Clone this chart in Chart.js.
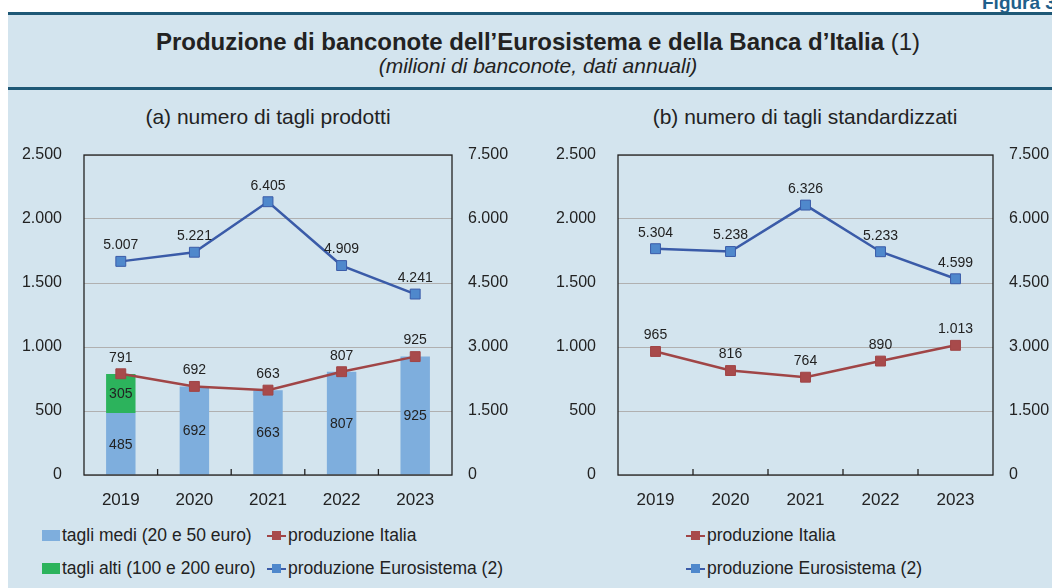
<!DOCTYPE html>
<html>
<head>
<meta charset="utf-8">
<script src="https://cdn.jsdelivr.net/npm/chart.js@4"></script>
<style>
  body { margin: 0; width: 1052px; height: 588px; background: #fff; position: relative; overflow: hidden;
         font-family: "Liberation Sans", Arial, sans-serif; color: #222; }
  .panel { position: absolute; left: 8px; top: 13px; right: 0; bottom: 0; background: #d3e4ee; }
  .rule { position: absolute; left: 8px; right: 0; height: 3px; background: #1e5876; }
  .fig { position: absolute; left: 982px; top: -8px; font-weight: bold; font-size: 19px; color: #1f5f8b; white-space: nowrap; }
  .title { position: absolute; left: 0; width: 1076px; top: 28px; text-align: center; font-size: 24px; }
  .title b { font-weight: bold; }
  .sub { position: absolute; left: 0; width: 1076px; top: 54px; text-align: center; font-size: 21px; font-style: italic; }
  .ptitle { position: absolute; top: 105px; font-size: 21px; text-align: center; }
  canvas { position: absolute; }
  .leg { position: absolute; font-size: 17.5px; display: flex; align-items: center; white-space: nowrap; }
  .box { width: 18px; height: 11px; margin-right: 2px; }
  .mk { position: relative; width: 19px; height: 12px; margin-right: 2px; }
  .mk .ln { position: absolute; left: 0; right: 0; top: 5px; height: 2.5px; }
  .mk .sq { position: absolute; left: 5px; top: 1.5px; width: 9px; height: 9px; }
</style>
</head>
<body>
<div class="panel"></div>
<div class="fig">Figura 3</div>
<div class="rule" style="top:12px"></div>
<div class="rule" style="top:87px"></div>
<div class="title"><b>Produzione di banconote dell’Eurosistema e della Banca d’Italia</b> (1)</div>
<div class="sub">(milioni di banconote, dati annuali)</div>
<div class="ptitle" style="left:68px;width:400px">(a) numero di tagli prodotti</div>
<div class="ptitle" style="left:605px;width:400px">(b) numero di tagli standardizzati</div>

<canvas id="chartA" width="530" height="370" style="left:0;top:140px"></canvas>
<canvas id="chartB" width="522" height="370" style="left:530px;top:140px"></canvas>

<div class="leg" style="left:42px;top:525px"><div class="box" style="background:#7eaedd"></div>tagli medi (20 e 50 euro)</div>
<div class="leg" style="left:42px;top:558px"><div class="box" style="background:#2cb35c"></div>tagli alti (100 e 200 euro)</div>
<div class="leg" style="left:267px;top:525px"><div class="mk"><div class="ln" style="background:#a04546"></div><div class="sq" style="background:#a84a4b"></div></div>produzione Italia</div>
<div class="leg" style="left:267px;top:558px"><div class="mk"><div class="ln" style="background:#3a5ba8"></div><div class="sq" style="background:#4f88cc"></div></div>produzione Eurosistema (2)</div>
<div class="leg" style="left:686px;top:525px"><div class="mk"><div class="ln" style="background:#a04546"></div><div class="sq" style="background:#a84a4b"></div></div>produzione Italia</div>
<div class="leg" style="left:686px;top:558px"><div class="mk"><div class="ln" style="background:#3a5ba8"></div><div class="sq" style="background:#4f88cc"></div></div>produzione Eurosistema (2)</div>

<script>
// Data
const years = ['2019', '2020', '2021', '2022', '2023'];
const tagliMedi = [485, 692, 663, 807, 925];
const tagliAlti = [305, 0, 0, 0, 0];
const italiaProdotti = [791, 692, 663, 807, 925];
const eurosistemaProdotti = [5007, 5221, 6405, 4909, 4241];
const italiaStandard = [965, 816, 764, 890, 1013];
const eurosistemaStandard = [5304, 5238, 6326, 5233, 4599];
const leftMax = 2500, leftStep = 500;
const rightMax = 7500, rightStep = 1500;

const colors = {
    medi: '#7eaedd',
    alti: '#2cb35c',
    italiaLine: '#a04546',
    italiaPoint: '#a84a4b',
    euroLine: '#3a5ba8',
    euroPoint: '#4f88cc',
    grid: '#b0b0b0',
    text: '#222'
};

// Italian thousands separator
const fmt = v => String(v).replace(/\B(?=(\d{3})+(?!\d))/g, '.');

// Plot frame + small category ticks on x axis
const framePlugin = {
    id: 'frame',
    afterDraw(chart) {
        const { ctx, chartArea: a, scales } = chart;
        ctx.save();
        ctx.strokeStyle = '#222';
        ctx.lineWidth = 1.3;
        ctx.strokeRect(a.left, a.top, a.right - a.left, a.bottom - a.top);
        const x = scales.x;
        for (let i = 0; i < years.length - 1; i++) {
            const bx = (x.getPixelForValue(i) + x.getPixelForValue(i + 1)) / 2;
            ctx.beginPath();
            ctx.moveTo(bx, a.bottom);
            ctx.lineTo(bx, a.bottom - 6);
            ctx.stroke();
        }
        ctx.restore();
    }
};

// Value labels
const labelPlugin = {
    id: 'valueLabels',
    afterDatasetsDraw(chart) {
        const ctx = chart.ctx;
        ctx.save();
        ctx.font = '14px "Liberation Sans", Arial, sans-serif';
        ctx.fillStyle = colors.text;
        ctx.textAlign = 'center';
        ctx.textBaseline = 'middle';
        chart.data.datasets.forEach((ds, di) => {
            const meta = chart.getDatasetMeta(di);
            meta.data.forEach((el, i) => {
                const v = ds.data[i];
                if (!v) return;
                if (ds.type === 'line') {
                    ctx.fillText(fmt(v), el.x, el.y - 16);
                } else {
                    ctx.fillText(fmt(v), el.x, (el.y + el.base) / 2 + 1);
                }
            });
        });
        ctx.restore();
    }
};

function lineDs(label, data, line, point, axis) {
    return {
        type: 'line',
        label: label,
        data: data,
        yAxisID: axis,
        borderColor: line,
        borderWidth: 2.5,
        backgroundColor: point,
        pointStyle: 'rect',
        pointRadius: 7,
        pointBorderColor: line,
        pointBorderWidth: 1,
        tension: 0,
        order: 0
    };
}

function makeChart(id, datasets, leftW, rightW) {
    const tickFont = { family: '"Liberation Sans", Arial, sans-serif', size: 16 };
    return new Chart(document.getElementById(id), {
        type: 'bar',
        data: { labels: years, datasets: datasets },
        plugins: [framePlugin, labelPlugin],
        options: {
            responsive: false,
            animation: false,
            layout: { padding: { top: 15, bottom: 0, left: 0, right: 0 } },
            plugins: { legend: { display: false }, tooltip: { enabled: false } },
            scales: {
                x: {
                    stacked: true,
                    grid: { display: false },
                    border: { display: false },
                    ticks: { color: colors.text, font: { family: tickFont.family, size: 17 }, padding: 7 },
                    afterFit: s => { s.height = 35; s.paddingLeft = 0; s.paddingRight = 0; }
                },
                y: {
                    position: 'left',
                    stacked: true,
                    min: 0, max: leftMax,
                    ticks: { stepSize: leftStep, color: colors.text, font: tickFont, padding: 22, callback: fmt },
                    grid: { color: colors.grid, drawTicks: false, lineWidth: 1 },
                    border: { display: false },
                    afterFit: s => { s.width = leftW; s.paddingTop = 0; s.paddingBottom = 0; }
                },
                y1: {
                    position: 'right',
                    min: 0, max: rightMax,
                    ticks: { stepSize: rightStep, color: colors.text, font: tickFont, padding: 16, callback: fmt },
                    grid: { display: false, drawTicks: false },
                    border: { display: false },
                    afterFit: s => { s.width = rightW; s.paddingTop = 0; s.paddingBottom = 0; }
                }
            }
        }
    });
}

// (a) numero di tagli prodotti
makeChart('chartA', [
    lineDs('produzione Eurosistema (2)', eurosistemaProdotti, colors.euroLine, colors.euroPoint, 'y1'),
    lineDs('produzione Italia', italiaProdotti, colors.italiaLine, colors.italiaPoint, 'y'),
    { label: 'tagli medi (20 e 50 euro)', data: tagliMedi, backgroundColor: colors.medi, yAxisID: 'y',
      categoryPercentage: 1, barPercentage: 0.4, order: 1 },
    { label: 'tagli alti (100 e 200 euro)', data: tagliAlti, backgroundColor: colors.alti, yAxisID: 'y',
      categoryPercentage: 1, barPercentage: 0.4, order: 1 }
], 84, 78);

// (b) numero di tagli standardizzati
makeChart('chartB', [
    lineDs('produzione Eurosistema (2)', eurosistemaStandard, colors.euroLine, colors.euroPoint, 'y1'),
    lineDs('produzione Italia', italiaStandard, colors.italiaLine, colors.italiaPoint, 'y')
], 88, 59);
</script>
</body>
</html>
